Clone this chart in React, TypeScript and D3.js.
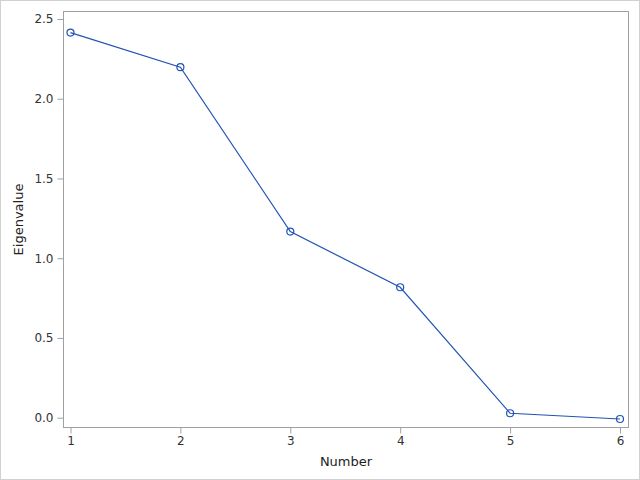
import { useRef, useEffect } from "react";
import * as d3 from "d3";

const numbers = [1, 2, 3, 4, 5, 6];
const eigenvalues = [2.415, 2.198, 1.167, 0.818, 0.028, -0.008];
const yTicks = [0, 0.5, 1.0, 1.5, 2.0, 2.5];

const W = 640;
const H = 480;

export default function App() {
  const svgRef = useRef<SVGSVGElement>(null);

  useEffect(() => {
    if (!svgRef.current) return;
    const svg = d3.select(svgRef.current);
    svg.selectAll("*").remove();

    const frame = { left: 63.5, top: 11.5, right: 628.5, bottom: 427.5 };
    const x = d3.scaleLinear().domain([1, 6]).range([70.5, 620]);
    const y = d3.scaleLinear().domain([0, 2.5]).range([417.7, 19]);
    const font = "'DejaVu Sans', Verdana, sans-serif";

    // outer border
    svg
      .append("rect")
      .attr("x", 0.5)
      .attr("y", 0.5)
      .attr("width", W - 1)
      .attr("height", H - 1)
      .attr("fill", "white")
      .attr("stroke", "#d0d0d0");

    // plot frame
    svg
      .append("rect")
      .attr("x", frame.left)
      .attr("y", frame.top)
      .attr("width", frame.right - frame.left)
      .attr("height", frame.bottom - frame.top)
      .attr("fill", "none")
      .attr("stroke", "#a0a0a0");

    const yAxis = svg
      .append("g")
      .attr("transform", `translate(${frame.left},0)`)
      .call(
        d3
          .axisLeft(y)
          .tickValues(yTicks)
          .tickFormat(d3.format(".1f"))
          .tickSize(6)
          .tickPadding(4)
      );

    const xAxis = svg
      .append("g")
      .attr("transform", `translate(0,${frame.bottom})`)
      .call(
        d3
          .axisBottom(x)
          .tickValues(numbers)
          .tickFormat(d3.format("d"))
          .tickSize(6)
          .tickPadding(3)
      );

    [xAxis, yAxis].forEach((a) => {
      a.select(".domain").remove();
      a.selectAll(".tick line").attr("stroke", "#a0a0a0");
      a.selectAll("text")
        .attr("font-family", font)
        .attr("font-size", "12px")
        .attr("fill", "#333");
    });

    svg
      .append("text")
      .attr("x", (frame.left + frame.right) / 2)
      .attr("y", 466)
      .attr("text-anchor", "middle")
      .attr("font-family", font)
      .attr("font-size", "13px")
      .attr("fill", "#222")
      .text("Number");

    svg
      .append("text")
      .attr("transform", `translate(23,${(frame.top + frame.bottom) / 2}) rotate(-90)`)
      .attr("text-anchor", "middle")
      .attr("font-family", font)
      .attr("font-size", "13px")
      .attr("fill", "#222")
      .text("Eigenvalue");

    const pts = numbers.map((n, i) => [n, eigenvalues[i]] as [number, number]);
    const line = d3
      .line<[number, number]>()
      .x((d) => x(d[0]))
      .y((d) => y(d[1]));

    svg
      .append("path")
      .datum(pts)
      .attr("d", line)
      .attr("fill", "none")
      .attr("stroke", "#2153b5")
      .attr("stroke-width", 1.2);

    svg
      .selectAll("circle.pt")
      .data(pts)
      .enter()
      .append("circle")
      .attr("class", "pt")
      .attr("cx", (d) => x(d[0]))
      .attr("cy", (d) => y(d[1]))
      .attr("r", 3.5)
      .attr("fill", "none")
      .attr("stroke", "#2153b5")
      .attr("stroke-width", 1.2);
  }, []);

  return (
    <div style={{ position: "absolute", left: 0, top: 0 }}>
      <svg ref={svgRef} width={W} height={H} style={{ display: "block" }} />
    </div>
  );
}
